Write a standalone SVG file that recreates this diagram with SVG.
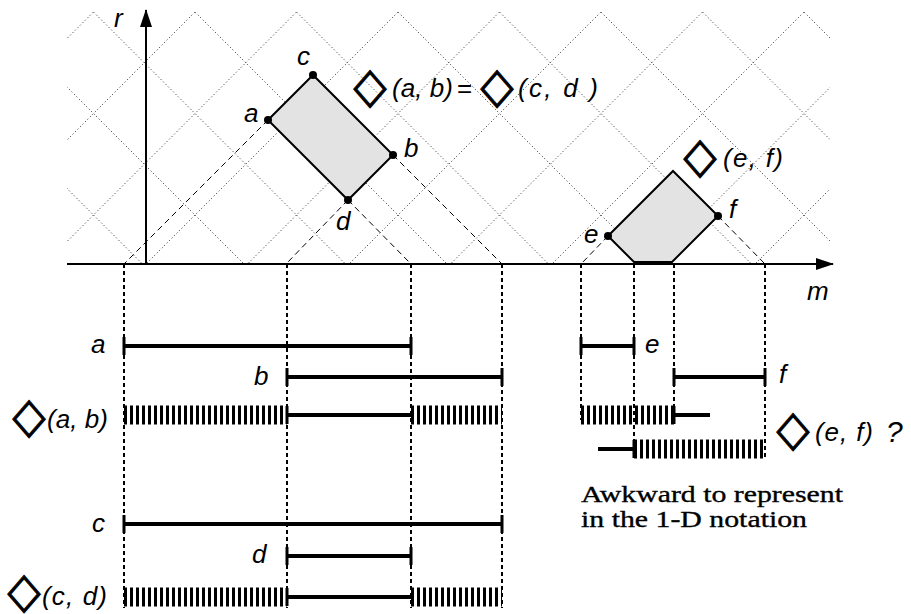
<svg xmlns="http://www.w3.org/2000/svg" width="911" height="614" viewBox="0 0 911 614">
<style>
.lbl{font-family:"Liberation Sans",Arial,sans-serif;font-style:italic;font-size:26px;fill:#000}
.sym{font-family:"DejaVu Sans",sans-serif;font-size:43px;fill:#000;stroke:#000;stroke-width:0.8;text-anchor:middle}
.serif{font-family:"Liberation Serif","Times New Roman",serif;font-size:24px;fill:#000;stroke:#000;stroke-width:0.35}
.grid{stroke:#222;stroke-width:1;stroke-dasharray:1 2.5;fill:none}
.axis{stroke:#000;stroke-width:2;fill:none}
.dash{stroke:#000;stroke-width:1;stroke-dasharray:6 4;fill:none}
.vdot{stroke:#000;stroke-width:2;stroke-dasharray:4 3;fill:none}
.seg{stroke:#000;stroke-width:4;fill:none}
.tick{stroke:#000;stroke-width:3;fill:none}
.hatch{stroke:#000;stroke-width:19;stroke-dasharray:3 3;fill:none}
.rect{fill:#e3e3e3;stroke:#000;stroke-width:2}
</style>
<defs>
<clipPath id="gclip"><rect x="67" y="12" width="763" height="252"/></clipPath>
<marker id="arr" viewBox="0 0 18 12" refX="17" refY="6" markerWidth="18" markerHeight="12" markerUnits="userSpaceOnUse" orient="auto"><path d="M0,0 L18,6 L0,12 Z" fill="#000"/></marker>
</defs>

<g id="grid" clip-path="url(#gclip)">
<path class="grid" d="M105.5,0 L-194.5,300 M207,0 L-93,300 M308.5,0 L8.5,300 M410,0 L110,300 M511.5,0 L211.5,300 M613,0 L313,300 M714.5,0 L414.5,300 M816,0 L516,300 M917.5,0 L617.5,300 M1019,0 L719,300 M1120.5,0 L820.5,300 M1222,0 L922,300"/>
<path class="grid" d="M-121.5,0 L178.5,300 M-20,0 L280,300 M81.5,0 L381.5,300 M183,0 L483,300 M284.5,0 L584.5,300 M386,0 L686,300 M487.5,0 L787.5,300 M589,0 L889,300 M690.5,0 L990.5,300 M792,0 L1092,300"/>
</g>

<g id="axes">
<line class="axis" x1="67" y1="264" x2="833" y2="264" marker-end="url(#arr)"/>
<line class="axis" x1="146" y1="264" x2="146" y2="10" marker-end="url(#arr)"/>
<text class="lbl" x="114" y="27">r</text>
<text class="lbl" x="807" y="300">m</text>
</g>

<g id="connectors">
<line class="dash" x1="268" y1="120" x2="124" y2="264"/>
<line class="dash" x1="393" y1="155" x2="502" y2="264"/>
<line class="dash" x1="348" y1="200" x2="286" y2="264"/>
<line class="dash" x1="348" y1="200" x2="411" y2="264"/>
<line class="dash" x1="608" y1="236" x2="581" y2="264"/>
<line class="dash" x1="718" y1="216" x2="765" y2="264"/>
<line class="vdot" x1="124" y1="264" x2="124" y2="608"/>
<line class="vdot" x1="287" y1="264" x2="287" y2="608"/>
<line class="vdot" x1="411" y1="264" x2="411" y2="608"/>
<line class="vdot" x1="502" y1="264" x2="502" y2="608"/>
<line class="vdot" x1="581" y1="264" x2="581" y2="420"/>
<line class="vdot" x1="634" y1="264" x2="634" y2="458"/>
<line class="vdot" x1="674" y1="264" x2="674" y2="420"/>
<line class="vdot" x1="765" y1="264" x2="765" y2="458"/>
</g>

<g id="rect-abcd">
<polygon class="rect" points="268,120 313,75 393,155 348,200"/>
<circle cx="268" cy="120" r="4"/>
<circle cx="313" cy="75" r="4"/>
<circle cx="393" cy="155" r="4"/>
<circle cx="348" cy="200" r="4"/>
<text class="lbl" x="297" y="65">c</text>
<text class="lbl" x="244" y="122">a</text>
<text class="lbl" x="404" y="157">b</text>
<text class="lbl" x="336" y="230">d</text>
</g>

<g id="rect-ef">
<polygon class="rect" points="608,236 673,171 718,216 672,262 634,262"/>
<circle cx="608" cy="236" r="4"/>
<circle cx="718" cy="216" r="4"/>
<text class="lbl" x="584" y="243">e</text>
<text class="lbl" x="729" y="218">f</text>
</g>

<g id="label-eq">
<text class="sym" transform="translate(370,88) scale(1,1.15)" y="12">◇</text>
<text class="lbl" x="392" y="97" textLength="61">(a, b)</text>
<text class="lbl" x="457" y="97" style="font-style:normal">=</text>
<text class="sym" transform="translate(497,88) scale(1,1.15)" y="12">◇</text>
<text class="lbl" x="518" y="97" textLength="80">(c, d )</text>
</g>

<g id="label-ef">
<text class="sym" transform="translate(700,158) scale(1,1.15)" y="12">◇</text>
<text class="lbl" x="723" y="167" textLength="60">(e, f)</text>
</g>

<g id="row-a">
<text class="lbl" x="91" y="353">a</text>
<line class="seg" x1="124" y1="346" x2="411" y2="346"/>
<line class="tick" x1="124" y1="337" x2="124" y2="355"/>
<line class="tick" x1="411" y1="337" x2="411" y2="355"/>
</g>
<g id="row-b">
<text class="lbl" x="254" y="385">b</text>
<line class="seg" x1="287" y1="377" x2="502" y2="377"/>
<line class="tick" x1="287" y1="368" x2="287" y2="386"/>
<line class="tick" x1="502" y1="368" x2="502" y2="386"/>
</g>
<g id="row-ab">
<text class="sym" transform="translate(29,418) scale(1,1.15)" y="12">◇</text>
<text class="lbl" x="47" y="428" textLength="61">(a, b)</text>
<line class="hatch" x1="124" y1="415" x2="287" y2="415"/>
<line class="seg" x1="287" y1="415" x2="411" y2="415"/>
<line class="hatch" x1="411" y1="415" x2="502" y2="415"/>
<line class="tick" x1="287" y1="406" x2="287" y2="424"/>
</g>

<g id="row-e">
<line class="seg" x1="581" y1="346" x2="634" y2="346"/>
<line class="tick" x1="581" y1="337" x2="581" y2="355"/>
<line class="tick" x1="634" y1="337" x2="634" y2="355"/>
<text class="lbl" x="645" y="353">e</text>
</g>
<g id="row-f">
<line class="seg" x1="674" y1="377" x2="765" y2="377"/>
<line class="tick" x1="674" y1="368" x2="674" y2="386"/>
<line class="tick" x1="765" y1="368" x2="765" y2="386"/>
<text class="lbl" x="779" y="383">f</text>
</g>
<g id="row-ef">
<line class="hatch" x1="581" y1="415" x2="674" y2="415"/>
<line class="seg" x1="674" y1="415" x2="710" y2="415"/>
<line class="tick" x1="674" y1="406" x2="674" y2="424"/>
<line class="seg" x1="598" y1="449" x2="634" y2="449"/>
<line class="hatch" x1="634" y1="449" x2="765" y2="449"/>
<line class="tick" x1="634" y1="440" x2="634" y2="458"/>
<text class="sym" transform="translate(793,431) scale(1,1.15)" y="12">◇</text>
<text class="lbl" x="815" y="441" textLength="58">(e, f)</text>
<text class="lbl" x="886" y="442" style="font-size:30px">?</text>
</g>

<g id="note">
<text class="serif" x="581" y="502" textLength="262" lengthAdjust="spacingAndGlyphs">Awkward to represent</text>
<text class="serif" x="581" y="527" textLength="226" lengthAdjust="spacingAndGlyphs">in the 1-D notation</text>
</g>

<g id="row-c">
<text class="lbl" x="92" y="532">c</text>
<line class="seg" x1="124" y1="524" x2="502" y2="524"/>
<line class="tick" x1="124" y1="515" x2="124" y2="533"/>
<line class="tick" x1="502" y1="515" x2="502" y2="533"/>
</g>
<g id="row-d">
<text class="lbl" x="252" y="563">d</text>
<line class="seg" x1="287" y1="556" x2="411" y2="556"/>
<line class="tick" x1="287" y1="547" x2="287" y2="565"/>
<line class="tick" x1="411" y1="547" x2="411" y2="565"/>
</g>
<g id="row-cd">
<text class="sym" transform="translate(24,593) scale(1,1.15)" y="12">◇</text>
<text class="lbl" x="42" y="605" textLength="65">(c, d)</text>
<line class="hatch" x1="124" y1="597" x2="287" y2="597"/>
<line class="seg" x1="287" y1="597" x2="411" y2="597"/>
<line class="hatch" x1="411" y1="597" x2="502" y2="597"/>
<line class="tick" x1="287" y1="588" x2="287" y2="606"/>
</g>
</svg>
